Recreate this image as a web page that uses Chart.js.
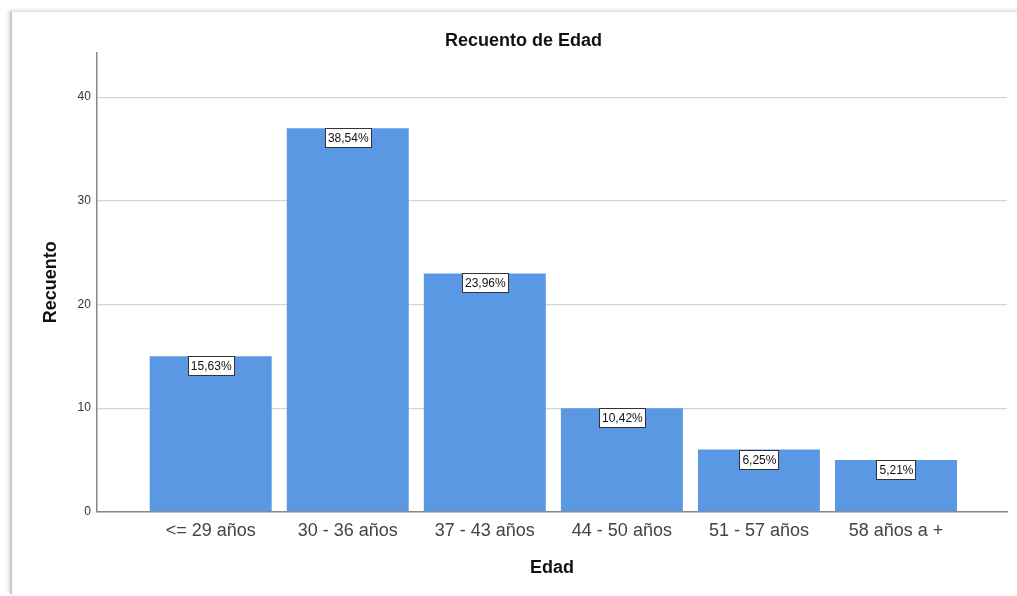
<!DOCTYPE html>
<html>
<head>
<meta charset="utf-8">
<script src="https://cdn.jsdelivr.net/npm/chart.js@4/dist/chart.umd.min.js"></script>
<style>
html,body{margin:0;padding:0;background:#fff;width:1017px;height:596px;overflow:hidden;}
#frame{position:absolute;left:10px;top:11px;width:1020px;height:582px;border-left:2px solid #c8c8c8;border-top:1px solid #e0e0e0;box-shadow:-2px -1px 4px rgba(0,0,0,0.12);}
#wrap{position:absolute;left:0;top:0;width:1017px;height:596px;}
</style>
</head>
<body>
<div id="frame"></div>
<div id="wrap"><canvas id="c" width="1017" height="596"></canvas></div>
<script>
const categories = ["<= 29 años", "30 - 36 años", "37 - 43 años", "44 - 50 años", "51 - 57 años", "58 años a +"];
const counts = [15, 37, 23, 10, 6, 5];
const percentLabels = ["15,63%", "38,54%", "23,96%", "10,42%", "6,25%", "5,21%"];
const yTicks = [0, 10, 20, 30, 40];

const points = counts.map((v, i) => ({x: i, y: v}));
const FONT = '"Liberation Sans", Arial, sans-serif';

const labelPlugin = {
  id: 'pctLabels',
  afterDatasetsDraw(chart) {
    const ctx = chart.ctx;
    const meta = chart.getDatasetMeta(0);
    ctx.save();
    ctx.font = '12px ' + FONT;
    ctx.textAlign = 'center';
    ctx.textBaseline = 'middle';
    meta.data.forEach((bar, i) => {
      const txt = percentLabels[i];
      const w = Math.round(ctx.measureText(txt).width + 5);
      const h = 19;
      const x = Math.round(bar.x - w / 2) + 0.5;
      const y = Math.round(bar.y) + 0.5;
      ctx.fillStyle = '#ffffff';
      ctx.fillRect(x, y, w, h);
      ctx.strokeStyle = '#333333';
      ctx.lineWidth = 1;
      ctx.strokeRect(x, y, w, h);
      ctx.fillStyle = '#111111';
      ctx.fillText(txt, bar.x + 0.5, y + h / 2 + 0.5);
    });
    ctx.restore();
  }
};

new Chart(document.getElementById('c'), {
  type: 'bar',
  data: {
    datasets: [{
      data: points,
      backgroundColor: '#5a98e4',
      borderWidth: 0,
      barPercentage: 0.89,
      categoryPercentage: 1.0
    }]
  },
  options: {
    responsive: false,
    animation: false,
    events: [],
    layout: {padding: {left: 40, right: 10, top: 30, bottom: 17}},
    plugins: {
      legend: {display: false},
      tooltip: {enabled: false},
      title: {
        display: true,
        text: 'Recuento de Edad',
        color: '#111',
        font: {family: FONT, size: 18, weight: 'bold'},
        padding: {top: 0, bottom: 1}
      }
    },
    scales: {
      x: {
        type: 'linear',
        offset: false,
        min: -0.83,
        max: 5.81,
        afterBuildTicks(scale) {
          scale.ticks = categories.map((c, i) => ({value: i}));
        },
        ticks: {
          callback: (v) => categories[v],
          color: '#444',
          font: {family: FONT, size: 18},
          padding: 8,
          autoSkip: false,
          maxRotation: 0
        },
        grid: {display: false, drawTicks: false},
        border: {display: true, color: '#888', width: 1.5},
        title: {
          display: true,
          text: 'Edad',
          color: '#111',
          font: {family: FONT, size: 18, weight: 'bold'},
          padding: {top: 8, bottom: 0}
        }
      },
      y: {
        min: 0,
        max: 44.3,
        afterBuildTicks(scale) {
          scale.ticks = yTicks.map(v => ({value: v}));
        },
        ticks: {
          color: '#333',
          font: {family: FONT, size: 12},
          padding: 6
        },
        grid: {
          color: (ctx) => ctx.tick && ctx.tick.value === 0 ? 'rgba(0,0,0,0)' : '#d4d4d4',
          lineWidth: 1.2,
          drawTicks: false
        },
        border: {display: true, color: '#888', width: 1.5},
        title: {
          display: true,
          text: 'Recuento',
          color: '#111',
          font: {family: FONT, size: 18, weight: 'bold'},
          padding: {top: 0, bottom: 10}
        }
      }
    }
  },
  plugins: [labelPlugin]
});
</script>
</body>
</html>
